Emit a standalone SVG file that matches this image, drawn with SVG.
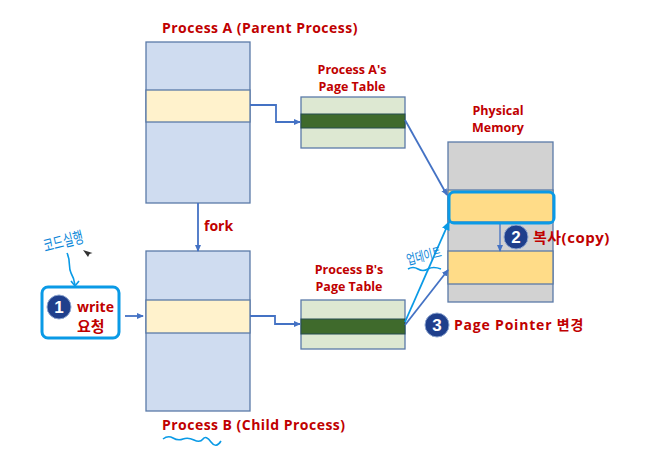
<svg xmlns="http://www.w3.org/2000/svg" width="668" height="470" viewBox="0 0 668 470">
<style>
text{font-family:"Open Sans","Noto Sans CJK KR",sans-serif;font-weight:700;fill:#c00000;font-size:14px}
.m{text-anchor:middle;font-size:12.5px}
.w{letter-spacing:.47px}
.box{stroke:#5b7aa8;stroke-width:1.3}
.proc{fill:#cfdcf0}.band{fill:#fff2cc}.pt{fill:#dde8d2}.dark{fill:#3f6a2c;stroke:#264d50}.mem{fill:#d2d2d2}.y{fill:#ffdc88}
.c{fill:none;stroke:#4472c4;stroke-width:1.8}
.hl{fill:none;stroke:#0a9ae6;stroke-width:3}
.ink{fill:none;stroke:#0a9ae6;stroke-width:1.6}
.hand{font-family:"Noto Sans CJK KR",sans-serif;font-weight:400;fill:#0a86d8}
.num{fill:#fff;font-family:"Liberation Sans",sans-serif;font-size:17px;text-anchor:middle}
.dot{fill:#1f3f8c;stroke:#8ea6d0;stroke-width:1}
</style>
<defs>
<marker id="a" markerWidth="7" markerHeight="7" refX="6" refY="3.5" orient="auto" markerUnits="userSpaceOnUse"><path d="M0 0.5L7 3.5L0 6.5z" fill="#4472c4"/></marker>
<marker id="b" markerWidth="9" markerHeight="9" refX="8" refY="4.5" orient="auto" markerUnits="userSpaceOnUse"><path d="M0 0.5L9 4.5L0 8.5z" fill="#0a9ae6"/></marker>
</defs>
<g id="process-a"><rect class="box proc" x="146" y="42" width="104" height="161"/><rect class="box band" x="146" y="90" width="104" height="32"/><text class="w" x="162" y="33">Process A (Parent Process)</text></g>
<g id="process-b"><rect class="box proc" x="146" y="251" width="104" height="160"/><rect class="box band" x="146" y="300" width="104" height="33"/><text class="w" x="162" y="430">Process B (Child Process)</text><path class="ink" d="M163 439q5-4 10-1t10 1t11 1t9-1t8 3t10-1"/></g>
<g id="table-a"><rect class="box pt" x="301" y="97" width="104" height="51"/><rect class="dark" x="301" y="114" width="104" height="14"/><text class="m" x="352" y="74">Process A's</text><text class="m" x="352" y="91">Page Table</text></g>
<g id="table-b"><rect class="box pt" x="301" y="300" width="104" height="49"/><rect class="dark" x="301" y="319" width="104" height="15"/><text class="m" x="349" y="274">Process B's</text><text class="m" x="349" y="291">Page Table</text></g>
<g id="memory"><rect class="box mem" x="448" y="142" width="105" height="160"/><rect class="box y" x="448" y="190" width="105" height="32"/><rect class="box y" x="448" y="251" width="105" height="33"/><text class="m" x="498" y="115">Physical</text><text class="m" x="498" y="132">Memory</text></g>
<g id="connectors">
<path class="c" d="M250 105H276V122H300" marker-end="url(#a)"/>
<path class="c" d="M250 316H275V324H300" marker-end="url(#a)"/>
<path class="c" d="M198 203V251" marker-end="url(#a)"/>
<path class="c" d="M405 120L447 195" marker-end="url(#a)"/>
<path class="c" d="M405 325L448 270" marker-end="url(#a)"/>
<path class="c" style="stroke-width:1.3" d="M500 224V251" marker-end="url(#a)"/>
<path class="c" d="M125 316H143" marker-end="url(#a)"/>
<path class="hl" style="stroke-width:1.8" d="M405 322L449 222" marker-end="url(#b)"/>
<path class="ink" d="M67 253c4 8 1 14 4 20q3 5 4 12"/><path class="ink" d="M71 281l4 5l4-5"/>
</g>
<g id="fork"><text x="204" y="231">fork</text></g>
<g id="highlight"><rect class="hl" x="449" y="192" width="105" height="31" rx="5"/></g>
<g id="write-request"><rect x="42" y="287" width="77" height="51" rx="6" fill="#fff" stroke="#0a9ae6" stroke-width="3"/><circle class="dot" cx="59" cy="307" r="12"/><text class="num" x="59" y="313">1</text><text x="77" y="312">write</text><text x="77" y="332" style="font-size:15px">요청</text></g>
<g id="step-2"><circle class="dot" cx="516" cy="237" r="12"/><text class="num" x="516" y="243">2</text><text x="533" y="243" style="font-size:15px;letter-spacing:.5px">복사(copy)</text></g>
<g id="step-3"><circle class="dot" cx="437" cy="325" r="12"/><text class="num" x="437" y="331">3</text><text x="454" y="330" style="letter-spacing:.8px">Page Pointer 변경</text></g>
<g id="notes"><text class="hand" transform="translate(45 252) rotate(-14) scale(.85 1.25)" style="font-size:13px">코드실행</text><text class="hand" transform="translate(408 265) rotate(-14) scale(.8 1.15)" style="font-size:12px">업데이트</text><path class="ink" d="M408 269q5-3 10 0t10 0t13 0"/><path d="M83 250l5 7l1.500-3l3-1z" fill="#333"/></g>
</svg>
